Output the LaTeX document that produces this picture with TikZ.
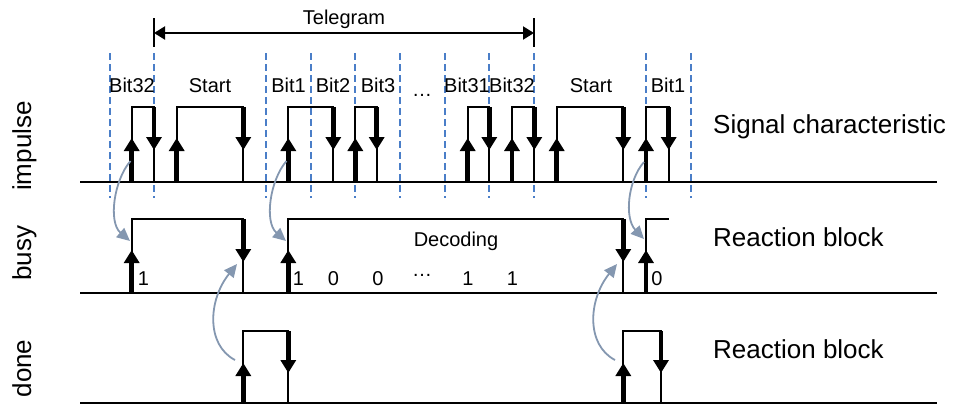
\documentclass[tikz,border=0pt]{standalone}
\usepackage{fontspec}
\setmainfont{Liberation Sans}
\usetikzlibrary{arrows.meta}
\definecolor{gridblue}{RGB}{74,126,200}
\definecolor{linkgray}{RGB}{132,151,176}

% thick edge arrows: x, start y, tip y
\newcommand\edgearrow[3]{\draw[edgeshaft] (#1,#2) -- (#1,#3);}
% pulse outline: x rise, x fall, baseline, top
\newcommand\pulseline[4]{\draw[wave] (#1,#3) -- (#1,#4) -- (#2,#4) -- (#2,#3);}

\begin{document}
\begin{tikzpicture}[x=1pt,y=-1pt,
  wave/.style={line width=2pt, line join=miter},
  axisline/.style={line width=2pt},
  edgeshaft/.style={line width=4.5pt, -{Triangle[length=13pt,width=15pt]}},
  gridline/.style={gridblue, line width=1.6pt, dash pattern=on 7pt off 4pt},
  link/.style={linkgray, line width=1.8pt, -{Triangle[length=13pt,width=12pt]}},
  small/.style={font=\fontsize{20}{24}\selectfont, inner sep=0pt},
  big/.style={font=\fontsize{26}{30}\selectfont, inner sep=0pt},
]
\useasboundingbox (0,0) rectangle (954,405);

% bit boundaries
\foreach \gx in {110,154,266,311,355,400,445,489,534,646,691}
  {\draw[gridline] (\gx,53) -- (\gx,198);}

% telegram span
\draw[line width=1.5pt] (154,18) -- (154,47);
\draw[line width=1.5pt] (534,18) -- (534,47);
\coordinate (tgA) at (154,33);
\coordinate (tgB) at (534,33);
\draw[line width=2pt, {Triangle[length=11pt,width=13pt]}-{Triangle[length=11pt,width=13pt]}] (tgA) -- (tgB);
\node[small, anchor=base] (tg) at (344,24) {Telegram};

% time axes
\draw[axisline] (80,182) -- (937,182);
\draw[axisline] (80,293) -- (937,293);
\draw[axisline] (80,403) -- (937,403);

% impulse row
\pulseline{131.7}{154}{182}{107}
\pulseline{176.7}{243.3}{182}{107}
\pulseline{288.3}{333.3}{182}{107}
\pulseline{355.3}{376.7}{182}{107}
\pulseline{467.7}{489.3}{182}{107}
\pulseline{512}{534.3}{182}{107}
\pulseline{556.7}{623.3}{182}{107}
\pulseline{646}{668.7}{182}{107}
\foreach \rx in {131.7,176.7,288.3,355.3,467.7,512,556.7,646}
  {\edgearrow{\rx}{182}{138}}
\foreach \fx in {154,243.3,333.3,376.7,489.3,534.3,623.3,668.7}
  {\edgearrow{\fx}{107}{150}}

\node[small, anchor=base] (l1) at (132,92) {Bit32};
\node[small, anchor=base] (l2) at (210,92) {Start};
\node[small, anchor=base] (l3) at (288.5,92) {Bit1};
\node[small, anchor=base] (l4) at (333,92) {Bit2};
\node[small, anchor=base] (l5) at (378,92) {Bit3};
\node[small, anchor=base] (l6) at (422,96) {…};
\node[small, anchor=base] (l7) at (467,92) {Bit31};
\node[small, anchor=base] (l8) at (512,92) {Bit32};
\node[small, anchor=base] (l9) at (591,92) {Start};
\node[small, anchor=base] (l10) at (668,92) {Bit1};

% busy row
\pulseline{131.7}{243.3}{293}{219}
\pulseline{288.3}{623.3}{293}{219}
\draw[wave] (646,293) -- (646,219) -- (668.7,219);
\foreach \rx in {131.7,288.3,646}
  {\edgearrow{\rx}{293}{250}}
\foreach \fx in {243.3,623.3}
  {\edgearrow{\fx}{219}{262}}

\node[small, anchor=base] (dec) at (456,246.5) {Decoding};
\node[small, anchor=base] (v1) at (143.5,285) {1};
\node[small, anchor=base] (v2) at (298.5,285) {1};
\node[small, anchor=base] (v3) at (333.5,285) {0};
\node[small, anchor=base] (v4) at (378,285) {0};
\node[small, anchor=base] (v5) at (422,276) {…};
\node[small, anchor=base] (v6) at (468,285) {1};
\node[small, anchor=base] (v7) at (512.5,285) {1};
\node[small, anchor=base] (v8) at (657,285) {0};

% done row
\pulseline{243.3}{288.3}{403}{331}
\pulseline{623.3}{661}{403}{331}
\foreach \rx in {243.3,623.3}
  {\edgearrow{\rx}{403}{363}}
\foreach \fx in {288.3,661}
  {\edgearrow{\fx}{331}{373}}

% causal links between rows
\coordinate (i1) at (130.5,161);
\coordinate (b1) at (130,241);
\coordinate (i2) at (286.5,161);
\coordinate (b2) at (286,241);
\coordinate (i3) at (644,162);
\coordinate (b3) at (644,239);
\coordinate (d1) at (235,360);
\coordinate (f1) at (237,264);
\coordinate (d2) at (615,360);
\coordinate (f2) at (617,264);
\draw[link] (i1) .. controls (114,180) and (108,222) .. (b1);
\draw[link] (i2) .. controls (270,180) and (264,222) .. (b2);
\draw[link] (i3) .. controls (628,180) and (624,218) .. (b3);
\draw[link] (d1) .. controls (206,345) and (208,300) .. (f1);
\draw[link] (d2) .. controls (586,345) and (588,300) .. (f2);

% row names
\node[big, rotate=90, anchor=base] (n1) at (31,146) {impulse};
\node[big, rotate=90, anchor=base] (n2) at (31,253) {busy};
\node[big, rotate=90, anchor=base] (n3) at (31,368.5) {done};

% row descriptions
\node[big, anchor=base west] (r1) at (713,133) {Signal characteristic};
\node[big, anchor=base west] (r2) at (713,246) {Reaction block};
\node[big, anchor=base west] (r3) at (713,358) {Reaction block};
\end{tikzpicture}
\end{document}
